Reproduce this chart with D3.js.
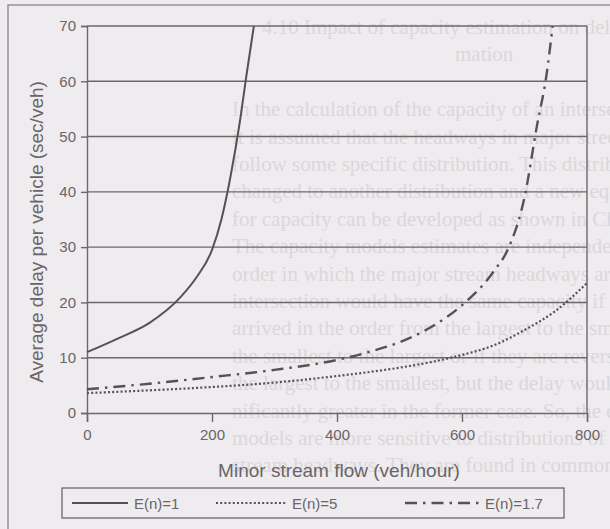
<!DOCTYPE html>
<html>
<head>
<meta charset="utf-8">
<script src="https://cdn.jsdelivr.net/npm/d3@7"></script>
<style>
  html, body { margin: 0; padding: 0; background: #eeecee; }
  svg { display: block; }
</style>
</head>
<body>
<svg width="610" height="529"></svg>
<script>
// flow (veh/hour) and delay (sec/veh)
var flowE1 = [0, 50, 100, 150, 175, 200, 215, 230, 245, 255, 267];
var delayE1 = [11, 13.5, 16.3, 21, 24.5, 29.5, 35, 43, 53, 61, 70];

var flowE5 = [0, 100, 200, 300, 400, 500, 550, 600, 650, 700, 750, 800];
var delayE5 = [3.6, 4.1, 4.7, 5.5, 6.7, 8.2, 9.2, 10.5, 12.2, 15, 18.5, 23.5];

var flowE17 = [0, 100, 200, 300, 400, 450, 500, 550, 600, 650, 675, 700, 720, 735, 745];
var delayE17 = [4.3, 5.3, 6.5, 7.8, 9.6, 11, 12.8, 15.5, 19.5, 25.5, 30, 39, 52, 61, 70];

var xTicks = [0, 200, 400, 600, 800];
var yTicks = [0, 10, 20, 30, 40, 50, 60, 70];
var legendLabels = ["E(n)=1", "E(n)=5", "E(n)=1.7"];

// faint text of the book page showing through the scan
var pageLines = [
  "4.10  Impact of capacity estimation on delay esti-",
  "mation",
  "",
  "In the calculation of the capacity of an intersec-",
  "it is assumed that the headways in major street flow",
  "follow some specific distribution. This distribution can be",
  "changed to another distribution and a new equation",
  "for capacity can be developed as shown in Chapter 3.",
  "The capacity models estimates are independent of the",
  "order in which the major stream headways arrive. The",
  "intersection would have the same capacity if the gaps",
  "arrived in the order from the largest to the smallest",
  "the smallest to the largest or if they are reversed from",
  "the largest to the smallest, but the delay would be sig-",
  "nificantly greater in the former case. So, the delay",
  "models are more sensitive to distributions of major",
  "stream headways. They are found in common traffic"
];

var margin = {left: 87, right: 23, top: 26, bottom: 116};
var width = 610, height = 529;
var ink = "#5b4f56";
var grey = "#6e666b";
var labelCol = "#6b6468";

var x = d3.scaleLinear().domain([0, 800]).range([margin.left, width - margin.right]);
var y = d3.scaleLinear().domain([0, 70]).range([height - margin.bottom, margin.top]);

var svg = d3.select("svg");

svg.append("rect").attr("width", width).attr("height", height).attr("fill", "#eeecee");

// page text behind
svg.append("g")
  .selectAll("text")
  .data(pageLines)
  .enter()
  .append("text")
  .attr("x", function (d, i) { return i == 1 ? 455 : (i == 0 ? 262 : 232); })
  .attr("y", function (d, i) { return 34 + i * 27.4; })
  .attr("font-family", "Liberation Serif")
  .attr("font-size", 21)
  .attr("fill", "#dbd7db")
  .text(function (d) { return d; });

// outer frame
svg.append("rect")
  .attr("x", 8).attr("y", 5)
  .attr("width", 700).attr("height", 700)
  .attr("fill", "none")
  .attr("stroke", "#8a8488")
  .attr("stroke-width", 1.3);

// grid lines
svg.append("g")
  .selectAll("line")
  .data(yTicks.slice(1))
  .enter()
  .append("line")
  .attr("x1", x(0)).attr("x2", x(800))
  .attr("y1", function (d) { return y(d); })
  .attr("y2", function (d) { return y(d); })
  .attr("stroke", grey)
  .attr("stroke-width", 1.4);

// right border
svg.append("line")
  .attr("x1", x(800)).attr("x2", x(800))
  .attr("y1", y(0)).attr("y2", y(70))
  .attr("stroke", grey).attr("stroke-width", 1.4);

var axisBottom = d3.axisBottom(x).tickValues(xTicks).tickSizeOuter(0).tickSize(9).tickPadding(7);
var axisLeft = d3.axisLeft(y).tickValues(yTicks).tickSizeOuter(0).tickSize(6).tickPadding(5);

var gx = svg.append("g")
  .attr("transform", "translate(0," + y(0) + ")")
  .call(axisBottom);

var gy = svg.append("g")
  .attr("transform", "translate(" + x(0) + ",0)")
  .call(axisLeft);

[gx, gy].forEach(function (g) {
  g.select(".domain").attr("stroke", grey).attr("stroke-width", 1.4);
  g.selectAll(".tick line").attr("stroke", grey).attr("stroke-width", 1.4);
  g.selectAll(".tick text")
    .attr("fill", labelCol)
    .attr("font-family", "Liberation Sans")
    .attr("font-size", 15);
});

var line = d3.line()
  .x(function (d) { return x(d[0]); })
  .y(function (d) { return y(d[1]); })
  .curve(d3.curveMonotoneX);

var series = [
  {pts: d3.zip(flowE1, delayE1), dash: null, w: 2},
  {pts: d3.zip(flowE5, delayE5), dash: "2,2.2", w: 2.2},
  {pts: d3.zip(flowE17, delayE17), dash: "12,6,2.5,6", w: 2.4}
];

svg.append("g")
  .selectAll("path")
  .data(series)
  .enter()
  .append("path")
  .attr("d", function (d) { return line(d.pts); })
  .attr("fill", "none")
  .attr("stroke", ink)
  .attr("stroke-width", function (d) { return d.w; })
  .attr("stroke-dasharray", function (d) { return d.dash; });

// axis titles
svg.append("text")
  .attr("transform", "rotate(-90)")
  .attr("x", -232)
  .attr("y", 43)
  .style("text-anchor", "middle")
  .attr("font-family", "Liberation Sans")
  .attr("font-size", 19)
  .attr("fill", labelCol)
  .text("Average delay per vehicle (sec/veh)");

svg.append("text")
  .attr("x", 339)
  .attr("y", 477)
  .style("text-anchor", "middle")
  .attr("font-family", "Liberation Sans")
  .attr("font-size", 19)
  .attr("fill", labelCol)
  .text("Minor stream flow (veh/hour)");

// legend
svg.append("rect")
  .attr("x", 62).attr("y", 488)
  .attr("width", 502).attr("height", 30)
  .attr("fill", "none")
  .attr("stroke", grey)
  .attr("stroke-width", 1.3);

var legX = [72, 216, 405];
var legW = [56, 70, 74];
var legend = svg.append("g")
  .selectAll("g")
  .data(series)
  .enter()
  .append("g");

legend.append("line")
  .attr("x1", function (d, i) { return legX[i]; })
  .attr("x2", function (d, i) { return legX[i] + legW[i]; })
  .attr("y1", 503).attr("y2", 503)
  .attr("stroke", ink)
  .attr("stroke-width", function (d) { return d.w; })
  .attr("stroke-dasharray", function (d) { return d.dash; });

legend.append("text")
  .attr("x", function (d, i) { return legX[i] + legW[i] + 6; })
  .attr("y", 508.5)
  .attr("font-family", "Liberation Sans")
  .attr("font-size", 15)
  .attr("fill", labelCol)
  .text(function (d, i) { return legendLabels[i]; });
</script>
</body>
</html>
